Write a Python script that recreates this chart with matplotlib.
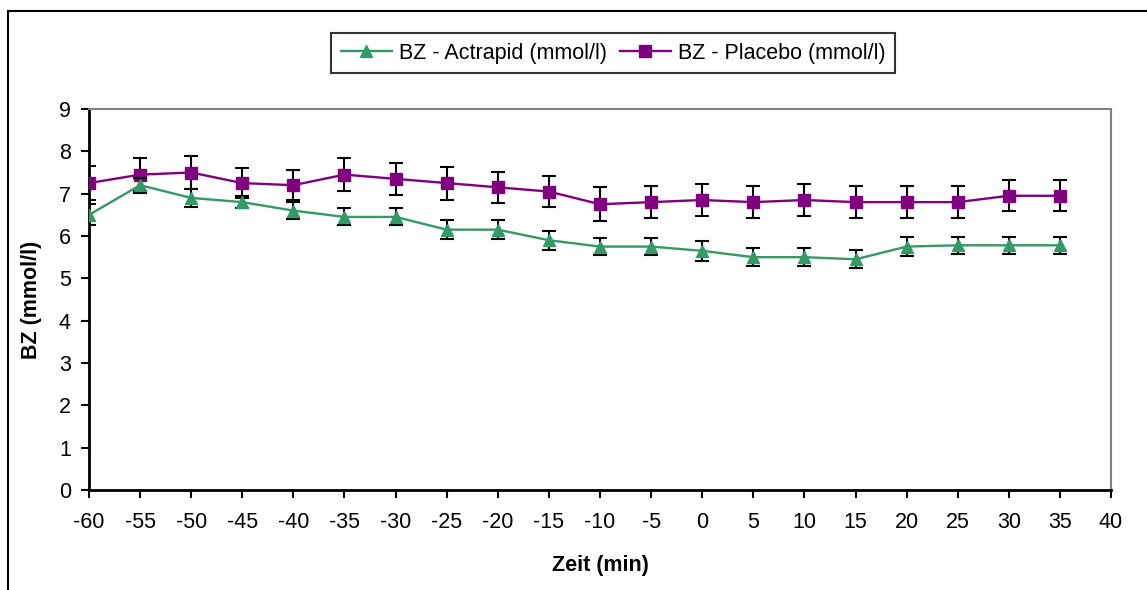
import numpy as np
import matplotlib
matplotlib.use('Agg')
import matplotlib.pyplot as plt
from matplotlib.lines import Line2D
from matplotlib.patches import Rectangle

plt.rcParams['font.family'] = ['Liberation Sans', 'DejaVu Sans']
plt.rcParams['axes.unicode_minus'] = False

zeit = [-60, -55, -50, -45, -40, -35, -30, -25, -20, -15, -10, -5, 0, 5, 10, 15, 20, 25, 30, 35]

actrapid = [6.5, 7.2, 6.9, 6.8, 6.6, 6.45, 6.45, 6.15, 6.15, 5.9, 5.75, 5.75, 5.65, 5.5, 5.5, 5.45, 5.75, 5.78, 5.78, 5.78]
actrapid_err = [0.25, 0.18, 0.22, 0.15, 0.2, 0.2, 0.2, 0.22, 0.22, 0.22, 0.2, 0.2, 0.23, 0.22, 0.22, 0.21, 0.23, 0.2, 0.2, 0.2]

placebo = [7.25, 7.45, 7.5, 7.25, 7.2, 7.45, 7.35, 7.25, 7.15, 7.05, 6.75, 6.8, 6.85, 6.8, 6.85, 6.8, 6.8, 6.8, 6.95, 6.95]
placebo_err = [0.4, 0.39, 0.38, 0.35, 0.36, 0.39, 0.37, 0.39, 0.37, 0.37, 0.4, 0.38, 0.38, 0.38, 0.38, 0.38, 0.38, 0.38, 0.37, 0.37]

green = '#339966'
purple = '#800080'
fs = 15.5

fig = plt.figure(figsize=(11.47, 5.9), dpi=100)
ax = fig.add_axes([89 / 1147, 100 / 590, (1111 - 89) / 1147, (490 - 109) / 590])

# outer chart frame (cut off at right and bottom like the original)
fig.patches.append(Rectangle((8 / 1147, -0.1), 1.2, (590 - 11) / 590 + 0.1,
                             transform=fig.transFigure, fill=False,
                             edgecolor='black', linewidth=1.5))

ax.errorbar(zeit, placebo, yerr=placebo_err, color=purple, marker='s', markersize=8,
            linewidth=1.7, ecolor='black', elinewidth=1.5, capsize=5, capthick=1.5, zorder=3)
ax.errorbar(zeit, actrapid, yerr=actrapid_err, color=green, marker='^', markersize=9,
            linewidth=1.7, ecolor='black', elinewidth=1.5, capsize=5, capthick=1.5, zorder=4)

ax.set_xlim(-60, 40)
ax.set_ylim(0, 9)
ax.set_xticks(np.arange(-60, 41, 5))
ax.set_yticks(np.arange(0, 10, 1))
ax.tick_params(direction='out', length=6, width=1.5, labelsize=fs)
ax.tick_params(axis='x', pad=10)
ax.tick_params(axis='y', pad=7)

for s in ['left', 'bottom']:
    ax.spines[s].set_linewidth(2)
for s in ['top', 'right']:
    ax.spines[s].set_color('#808080')
    ax.spines[s].set_linewidth(1.5)

ax.set_xlabel('Zeit (min)', fontsize=fs, fontweight='bold', labelpad=16)
ax.set_ylabel('BZ (mmol/l)', fontsize=fs, fontweight='bold', labelpad=12)

handles = [
    Line2D([], [], color=green, marker='^', markersize=9, linewidth=1.7),
    Line2D([], [], color=purple, marker='s', markersize=8, linewidth=1.7),
]
leg = fig.legend(handles, ['BZ - Actrapid (mmol/l)', 'BZ - Placebo (mmol/l)'],
                 loc='center', bbox_to_anchor=(613 / 1147, 1 - 53 / 590), ncol=2,
                 fontsize=fs, frameon=True, fancybox=False, edgecolor='black',
                 handlelength=2.4, handletextpad=0.3, columnspacing=0.6,
                 borderpad=0.45, borderaxespad=0)
leg.get_frame().set_linewidth(1.5)

fig.savefig('out.png', dpi=100)
